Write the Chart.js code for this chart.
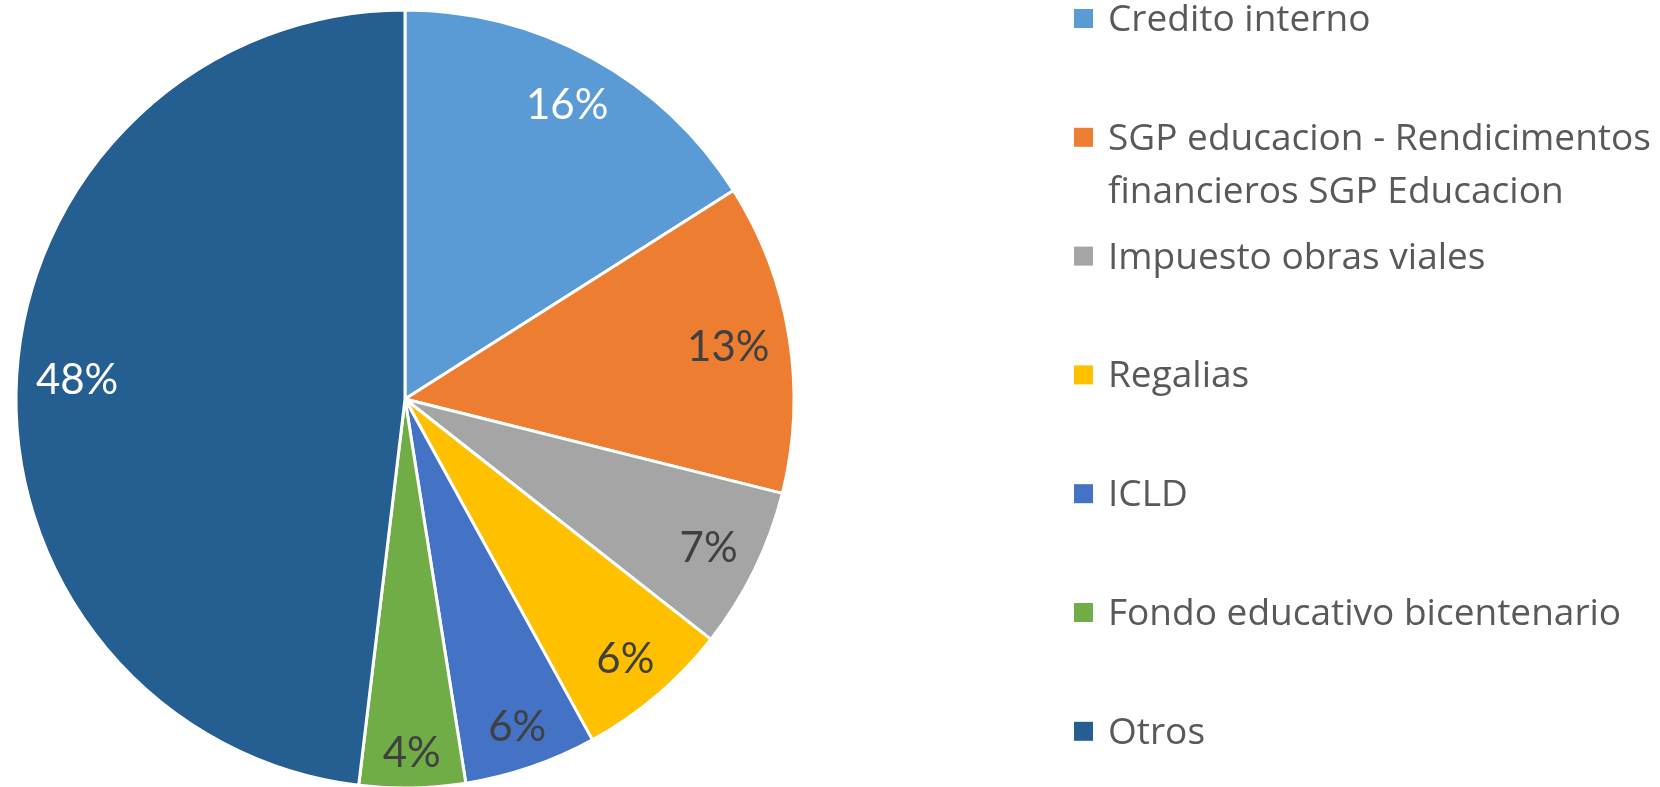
<!DOCTYPE html>
<html>
<head>
<meta charset="utf-8">
<script src="https://cdn.jsdelivr.net/npm/chart.js@4/dist/chart.umd.min.js"></script>
<style>
html,body{margin:0;padding:0;background:#fff;overflow:hidden;}
#wrap{position:absolute;left:0;top:0;width:1660px;height:787px;}
</style>
</head>
<body>
<div id="wrap"><canvas id="c" width="1660" height="787"></canvas></div>
<script>
const categories = [
  "Credito interno",
  "SGP educacion - Rendicimentos financieros SGP Educacion",
  "Impuesto obras viales",
  "Regalias",
  "ICLD",
  "Fondo educativo bicentenario",
  "Otros"
];
const shares = [16.0, 12.9, 6.7, 6.4, 5.5, 4.4, 48.1];
const colors = ["#5B9BD5", "#ED7D31", "#A5A5A5", "#FFC000", "#4472C4", "#70AD47", "#255E91"];
const labelColors = ["#FFFFFF", "#404040", "#404040", "#404040", "#404040", "#404040", "#FFFFFF"];

const LABEL_FONT = '42px Lato';
const LEGEND_FAMILY = '"Open Sans"';

const pieLabels = {
  id: 'pieLabels',
  afterDatasetsDraw(chart) {
    const ctx = chart.ctx;
    const meta = chart.getDatasetMeta(0);
    const total = shares.reduce((a, b) => a + b, 0);
    ctx.save();
    ctx.font = LABEL_FONT;
    ctx.textAlign = 'center';
    ctx.textBaseline = 'middle';
    meta.data.forEach((arc, i) => {
      const p = arc.getProps(['x', 'y', 'startAngle', 'endAngle', 'outerRadius'], true);
      const mid = (p.startAngle + p.endAngle) / 2;
      const txt = Math.round(shares[i] / total * 100) + '%';
      const w = ctx.measureText(txt).width;
      const hw = w / 2, hh = 15;
      const limit = p.outerRadius - 18;
      const cx = Math.cos(mid), cy = Math.sin(mid);
      let d = limit;
      for (; d > 0; d -= 0.5) {
        const x = d * cx, y = d * cy;
        let ok = true;
        for (const sx of [-1, 1]) for (const sy of [-1, 1]) {
          const px = x + sx * hw, py = y + sy * hh;
          if (Math.hypot(px, py) > limit) ok = false;
        }
        if (ok) break;
      }
      ctx.fillStyle = labelColors[i];
      ctx.fillText(txt, p.x + d * cx, p.y + d * cy + 1);
    });
    ctx.restore();
  }
};

const sideLegend = {
  id: 'sideLegend',
  afterDraw(chart) {
    const ctx = chart.ctx;
    ctx.save();
    ctx.font = '40px ' + LEGEND_FAMILY;
    const ref = ctx.measureText('SGP educacion - Rendicimentos').width;
    const size = 40 * 543 / ref;
    ctx.font = size.toFixed(2) + 'px ' + LEGEND_FAMILY;
    ctx.textAlign = 'left';
    ctx.textBaseline = 'alphabetic';
    const boxX = 1074, box = 19, textX = 1108, maxW = 1658 - textX;
    categories.forEach((name, i) => {
      const top = 9 + i * 118.8;
      ctx.fillStyle = colors[i];
      ctx.fillRect(boxX, top, box, box);
      const words = name.split(' ');
      const lines = [];
      let cur = '';
      words.forEach(wd => {
        const t = cur ? cur + ' ' + wd : wd;
        if (ctx.measureText(t).width > maxW && cur) { lines.push(cur); cur = wd; }
        else cur = t;
      });
      if (cur) lines.push(cur);
      ctx.fillStyle = '#595959';
      lines.forEach((ln, k) => ctx.fillText(ln, textX, top + 22 + k * 53));
    });
    ctx.restore();
  }
};

new Chart(document.getElementById('c'), {
  type: 'pie',
  data: {
    labels: categories,
    datasets: [{
      data: shares,
      backgroundColor: colors,
      borderColor: '#FFFFFF',
      borderWidth: 3
    }]
  },
  options: {
    responsive: false,
    animation: false,
    radius: 389,
    layout: { padding: { left: 17, top: 11, right: 1660 - 17 - 776, bottom: 0 } },
    plugins: {
      legend: { display: false },
      tooltip: { enabled: false }
    }
  },
  plugins: [pieLabels, sideLegend]
});
</script>
</body>
</html>
